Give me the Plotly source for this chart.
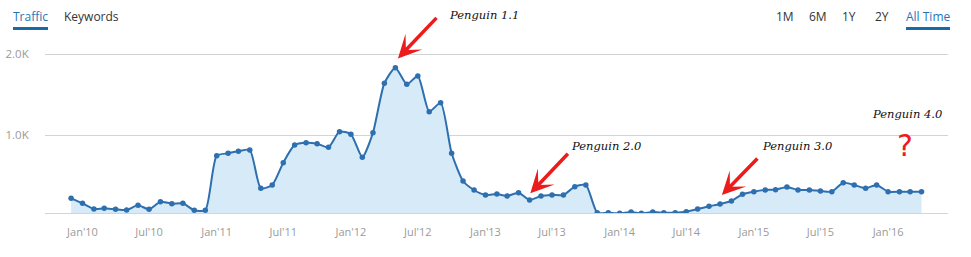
import plotly.graph_objects as go
import pandas as pd

W, H = 971, 257

# ---- data ----
months = pd.date_range("2009-12-01", "2016-04-01", freq="MS")
traffic = [
    222,
    160, 90, 99, 86, 78, 136, 86, 180, 156, 160, 74, 74,
    748, 778, 803, 819, 346, 387, 662, 881, 909, 897, 852, 1045,
    1013, 729, 1032, 1643, 1835, 1630, 1733, 1292, 1403, 778, 436, 325,
    263, 275, 251, 291, 201, 251, 263, 263, 366, 387, 44, 44,
    37, 53, 37, 53, 44, 44, 57, 90, 123, 152, 189, 272,
    304, 325, 329, 362, 325, 325, 312, 304, 415, 387, 346, 387,
    304, 304, 304, 304,
]
x_tick_vals = ["2010-01-01", "2010-07-01", "2011-01-01", "2011-07-01", "2012-01-01",
               "2012-07-01", "2013-01-01", "2013-07-01", "2014-01-01", "2014-07-01",
               "2015-01-01", "2015-07-01", "2016-01-01"]
x_tick_text = ["Jan'10", "Jul'10", "Jan'11", "Jul'11", "Jan'12", "Jul'12", "Jan'13",
               "Jul'13", "Jan'14", "Jul'14", "Jan'15", "Jul'15", "Jan'16"]
y_tick_vals = [1000, 2000]
y_tick_text = ["1.0K", "2.0K"]

# annotations: arrow tip (date, value)
update_names = ["Penguin 1.1", "Penguin 2.0", "Penguin 3.0"]
update_tip_dates = ["2012-05-08", "2013-05-03", "2014-10-06"]
update_tip_values = [1950, 284, 263]

tabs = ["Traffic", "Keywords"]
periods = ["1M", "6M", "1Y", "2Y", "All Time"]

# ---- layout helpers (pixel -> paper) ----
def px(x):
    return x / W

def py(y):
    return 1 - y / H

LINE = "#2e6fb0"
FILL = "#d6eaf8"
RED = "#ec1c1c"
GREY = "#9a9a9a"

fig = go.Figure()
fig.add_trace(go.Scatter(
    x=months, y=traffic, mode="lines+markers",
    line=dict(color=LINE, width=2, shape="spline", smoothing=0.6),
    marker=dict(color=LINE, size=5.5),
    fill="tozeroy", fillcolor=FILL,
    hoverinfo="skip", showlegend=False,
))

annotations = []
arrow_offsets = [(40, -42), (39, -41), (37, -38)]
label_pos = [(484, 15), (606, 146), (797, 146)]
for name, d, v, (ax, ay), (lx, ly) in zip(update_names, update_tip_dates, update_tip_values,
                                          arrow_offsets, label_pos):
    annotations.append(dict(
        x=d, y=v, xref="x", yref="y", ax=ax, ay=ay, text="",
        showarrow=True, arrowhead=3, arrowsize=1.1, arrowwidth=3.5, arrowcolor=RED,
    ))
    annotations.append(dict(
        x=px(lx), y=py(ly), xref="paper", yref="paper", text="<i>" + name + "</i>",
        showarrow=False, xanchor="center", yanchor="middle",
        font=dict(family="DejaVu Serif", size=11.5, color="#111111"),
    ))
annotations.append(dict(
    x=px(907), y=py(114), xref="paper", yref="paper", text="<i>Penguin 4.0</i>",
    showarrow=False, xanchor="center", yanchor="middle",
    font=dict(family="DejaVu Serif", size=11.5, color="#111111"),
))
annotations.append(dict(
    x=px(905), y=py(145), xref="paper", yref="paper", text="?",
    showarrow=False, xanchor="center", yanchor="middle",
    font=dict(family="DejaVu Sans", size=30, color=RED),
))

# tabs
tab_pos = [30.5, 91.5]
tab_col = ["#1f76b7", "#333333"]
for t, xpos, c in zip(tabs, tab_pos, tab_col):
    annotations.append(dict(
        x=px(xpos), y=py(16.5), xref="paper", yref="paper", text=t, showarrow=False,
        xanchor="center", yanchor="middle", font=dict(family="Open Sans", size=12, color=c),
    ))
period_pos = [784.5, 818, 849, 881.5, 928]
for i, (p, xpos) in enumerate(zip(periods, period_pos)):
    c = "#1f76b7" if p == "All Time" else "#333333"
    annotations.append(dict(
        x=px(xpos), y=py(16.5), xref="paper", yref="paper", text=p, showarrow=False,
        xanchor="center", yanchor="middle", font=dict(family="Open Sans", size=12, color=c),
    ))

shapes = [
    dict(type="line", xref="paper", yref="paper", x0=px(13), x1=px(48), y0=py(28.5), y1=py(28.5),
         line=dict(color="#1a6aa8", width=3)),
    dict(type="line", xref="paper", yref="paper", x0=px(906), x1=px(950), y0=py(28.5), y1=py(28.5),
         line=dict(color="#1a6aa8", width=3)),
]

fig.update_layout(
    width=W, height=H,
    margin=dict(l=0, r=0, t=0, b=0),
    paper_bgcolor="white", plot_bgcolor="white",
    annotations=annotations, shapes=shapes,
    xaxis=dict(
        domain=[px(45), px(948)],
        range=["2009-09-21", "2016-06-12"],
        tickvals=x_tick_vals, ticktext=x_tick_text,
        ticks="outside", ticklen=8, tickcolor="rgba(0,0,0,0)",
        tickfont=dict(family="Open Sans", size=11, color=GREY),
        showgrid=False, zeroline=False,
        showline=True, linecolor="#c9d6e3", linewidth=1,
        automargin=False, fixedrange=True,
    ),
    yaxis=dict(
        domain=[py(213.3), py(40)],
        range=[37, 2177],
        tickvals=y_tick_vals, ticktext=y_tick_text,
        ticks="outside", ticklen=13, tickcolor="rgba(0,0,0,0)",
        tickfont=dict(family="Open Sans", size=11.5, color=GREY),
        showgrid=True, gridcolor="#d3d3d3", gridwidth=1,
        zeroline=False, showline=False,
        automargin=False, fixedrange=True,
    ),
)

fig.write_html("out.html", config={"displayModeBar": False})
